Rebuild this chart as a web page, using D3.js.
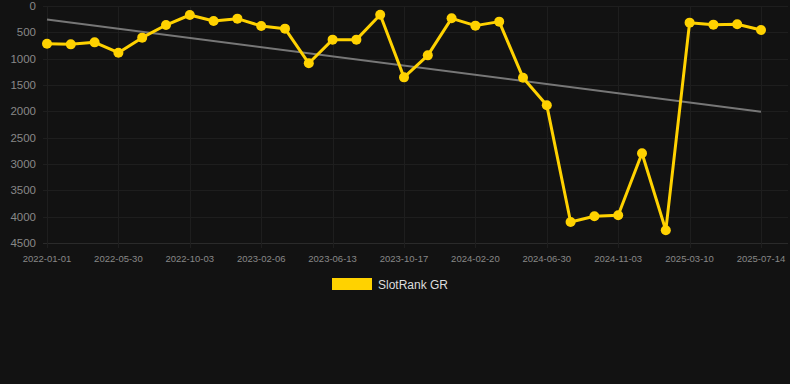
<!DOCTYPE html>
<html>
<head>
  <meta charset="utf-8">
  <script src="https://d3js.org/d3.v7.min.js"></script>
  <style>
    html, body { margin: 0; padding: 0; background: #121212; }
    svg { display: block; font-family: "Liberation Sans", Arial, sans-serif; }
  </style>
</head>
<body>
  <svg id="chart"></svg>
  <script>
    // categories (dates), only every third one is labelled
    var dates = [
      "2022-01-01", "2022-02-18", "2022-04-08", "2022-05-30", "2022-07-11", "2022-08-22",
      "2022-10-03", "2022-11-14", "2022-12-26", "2023-02-06", "2023-03-20", "2023-05-01",
      "2023-06-13", "2023-07-25", "2023-09-05", "2023-10-17", "2023-11-28", "2024-01-09",
      "2024-02-20", "2024-04-03", "2024-05-17", "2024-06-30", "2024-08-11", "2024-09-22",
      "2024-11-03", "2024-12-15", "2025-01-27", "2025-03-10", "2025-04-21", "2025-06-02",
      "2025-07-14"
    ];
    // rank values (lower is better, axis is inverted)
    var ranks = [
      716, 728, 690, 886, 601, 361, 171, 285, 240, 380, 430,
      1088, 639, 639, 165, 1355, 937, 234, 373, 297, 1361,
      1886, 4101, 3993, 3974, 2797, 4259, 316, 354, 348, 456
    ];
    var yTicks = [0, 500, 1000, 1500, 2000, 2500, 3000, 3500, 4000, 4500];
    var seriesName = "SlotRank GR";

    var width = 790, height = 384;
    var plotLeft = 47, plotRight = 761, plotTop = 6, plotBottom = 243;

    var svg = d3.select("#chart").attr("width", width).attr("height", height);

    var x = d3.scalePoint().domain(dates).range([plotLeft, plotRight]);
    var y = d3.scaleLinear().domain([0, 4500]).range([plotTop, plotBottom]);

    var labelled = dates.filter(function (d, i) { return i % 3 === 0; });

    // grid
    svg.append("g").selectAll("line")
      .data(yTicks)
      .enter().append("line")
      .attr("x1", 43).attr("x2", 788)
      .attr("y1", function (d) { return Math.round(y(d)) + 0.5; })
      .attr("y2", function (d) { return Math.round(y(d)) + 0.5; })
      .attr("stroke", function (d) { return d === 4500 ? "#2a2a2a" : "#1e1e1e"; })
      .attr("stroke-width", 1);

    svg.append("g").selectAll("line")
      .data(labelled)
      .enter().append("line")
      .attr("x1", function (d) { return Math.round(x(d)) + 0.5; })
      .attr("x2", function (d) { return Math.round(x(d)) + 0.5; })
      .attr("y1", plotTop).attr("y2", plotBottom + 5)
      .attr("stroke", "#1e1e1e")
      .attr("stroke-width", 1);

    // y labels
    svg.append("g").selectAll("text")
      .data(yTicks)
      .enter().append("text")
      .attr("x", 36)
      .attr("y", function (d) { return y(d); })
      .attr("dy", "0.35em")
      .attr("text-anchor", "end")
      .attr("fill", "#888")
      .attr("font-size", 11.5)
      .text(function (d) { return d; });

    // x labels
    svg.append("g").selectAll("text")
      .data(labelled)
      .enter().append("text")
      .attr("x", function (d) { return x(d); })
      .attr("y", 259)
      .attr("dy", "0.35em")
      .attr("text-anchor", "middle")
      .attr("fill", "#888")
      .attr("font-size", 9.5)
      .text(function (d) { return d; });

    // trend line (least squares over index)
    var n = ranks.length;
    var mx = d3.mean(ranks, function (d, i) { return i; });
    var my = d3.mean(ranks);
    var sxy = 0, sxx = 0;
    ranks.forEach(function (v, i) { sxy += (i - mx) * (v - my); sxx += (i - mx) * (i - mx); });
    var slope = sxy / sxx, icpt = my - slope * mx;

    svg.append("line")
      .attr("x1", x(dates[0])).attr("y1", y(icpt))
      .attr("x2", x(dates[n - 1])).attr("y2", y(icpt + slope * (n - 1)))
      .attr("stroke", "#777")
      .attr("stroke-width", 2);

    // series
    var line = d3.line()
      .x(function (d, i) { return x(dates[i]); })
      .y(function (d) { return y(d); });

    svg.append("path")
      .datum(ranks)
      .attr("d", line)
      .attr("fill", "none")
      .attr("stroke", "#FFD200")
      .attr("stroke-width", 3)
      .attr("stroke-linejoin", "round");

    svg.append("g").selectAll("circle")
      .data(ranks)
      .enter().append("circle")
      .attr("cx", function (d, i) { return x(dates[i]); })
      .attr("cy", function (d) { return y(d); })
      .attr("r", 5)
      .attr("fill", "#FFD200");

    // legend
    var legend = svg.append("g");
    legend.append("rect")
      .attr("x", 332).attr("y", 278)
      .attr("width", 40).attr("height", 12)
      .attr("fill", "#FFD200");
    legend.append("text")
      .attr("x", 378).attr("y", 285)
      .attr("dy", "0.35em")
      .attr("fill", "#ddd")
      .attr("font-size", 12)
      .text(seriesName);
  </script>
</body>
</html>
